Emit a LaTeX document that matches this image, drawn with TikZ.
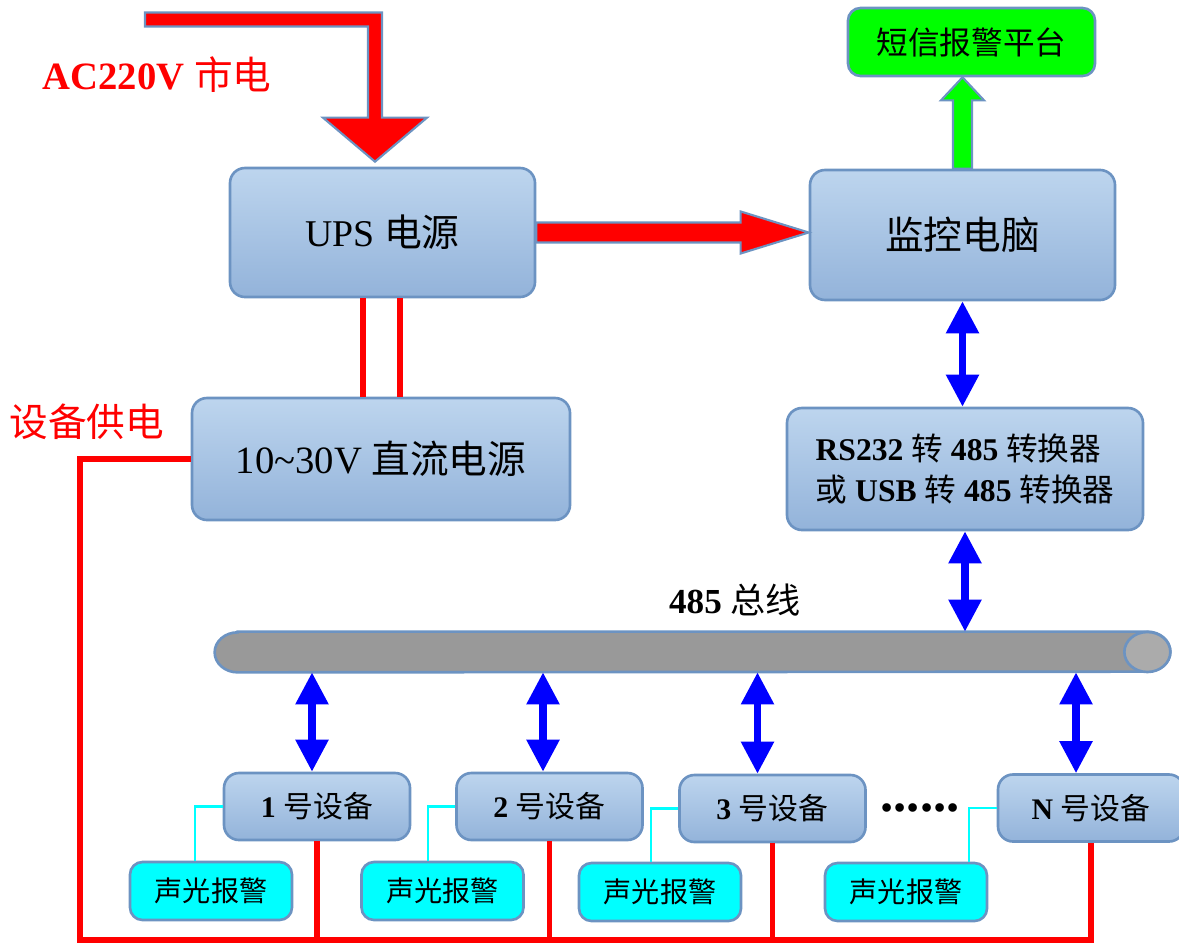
\documentclass[tikz,border=0pt]{standalone}
\usepackage{fontspec}
\setmainfont{Liberation Serif}
\newfontfamily\cjk{Noto Sans CJK SC}
\newcommand{\zh}[1]{{\cjk\mdseries #1}}
\usetikzlibrary{calc,arrows.meta}
\definecolor{boxtop}{HTML}{BDD5EE}
\definecolor{boxbot}{HTML}{93B3DA}
\definecolor{boxedge}{HTML}{6C93C2}
\definecolor{alarmcyan}{HTML}{00FFFF}
\definecolor{smsgreen}{HTML}{00FF00}
\tikzset{
  unit/.style={rounded corners=0.3cm, draw=boxedge, line width=1.5pt,
    top color=boxtop, bottom color=boxbot, align=center, inner sep=0pt},
  device/.style={unit, minimum width=3.72cm, minimum height=1.34cm,
    font=\bfseries\fontsize{17}{20}\selectfont},
  alarm/.style={rounded corners=0.25cm, draw=boxedge, line width=1.5pt, fill=alarmcyan,
    minimum width=3.24cm, minimum height=1.16cm, font=\fontsize{16}{18}\selectfont},
  power/.style={draw=red, line width=3.4pt},
  sig/.style={draw=alarmcyan, line width=1.2pt},
  link485/.style={blue, line width=4pt,
    {Triangle[width=0.63cm,length=0.64cm]}-{Triangle[width=0.63cm,length=0.64cm]}},
  block/.style={draw=boxedge, line width=1.2pt, line join=miter},
}
\begin{document}
\begin{tikzpicture}
\useasboundingbox (0,0) rectangle (23.58,-18.88);
% boxes
\node[unit, minimum width=6.1cm, minimum height=2.58cm, font=\fontsize{21.5}{24}\selectfont] (ups) at (7.65,-4.65) {UPS \zh{电源}};
\node[unit, minimum width=6.1cm, minimum height=2.6cm, font=\fontsize{22}{24}\selectfont] (pc) at (19.25,-4.7) {\zh{监控电脑}};
\node[rounded corners=0.25cm, draw=boxedge, line width=1.5pt, fill=smsgreen, minimum width=4.94cm, minimum height=1.36cm, font=\fontsize{18}{20}\selectfont] (sms) at (19.43,-0.84) {\zh{短信报警平台}};
\node[unit, minimum width=7.56cm, minimum height=2.44cm, font=\fontsize{22}{24}\selectfont] (dc) at (7.62,-9.18) {10\textasciitilde30V \zh{直流电源}};
\node[unit, align=left, minimum width=7.12cm, minimum height=2.44cm, font=\bfseries\fontsize{18}{23.8}\selectfont] (conv) at (19.3,-9.38) {RS232 \zh{转} 485 \zh{转换器}\\\zh{或} USB \zh{转} 485 \zh{转换器}};
% 485 bus (cylinder)
\node[minimum width=19.1cm, minimum height=0.8cm, inner sep=0pt] (bus) at (13.85,-13.04) {};
\draw[draw=boxedge, line width=1.5pt, fill=gray!80] ($(bus.north west)+(0.46,0)$) -- ($(bus.north east)+(-0.46,0)$) arc[start angle=90, end angle=-90, x radius=0.46, y radius=0.4] -- ($(bus.south west)+(0.46,0)$) arc[start angle=270, end angle=90, x radius=0.46, y radius=0.4] -- cycle;
\draw[draw=boxedge, line width=1.5pt, fill=gray!66] ($(bus.east)+(-0.46,0)$) ellipse[x radius=0.46, y radius=0.4];
\node[device] (d1) at (6.34,-16.13) {1 \zh{号设备}};
\node[device] (d2) at (10.99,-16.13) {2 \zh{号设备}};
\node[device] (d3) at (15.45,-16.17) {3 \zh{号设备}};
\node[device] (dN) at (21.82,-16.16) {N \zh{号设备}};
\node[font=\bfseries\fontsize{30}{32}\selectfont] (dots) at (18.4,-16.16) {......};
\node[alarm] (a1) at (4.22,-17.82) {\zh{声光报警}};
\node[alarm] (a2) at (8.85,-17.82) {\zh{声光报警}};
\node[alarm] (a3) at (13.2,-17.84) {\zh{声光报警}};
\node[alarm] (a4) at (18.12,-17.84) {\zh{声光报警}};
% labels
\node[red, font=\bfseries\fontsize{22}{24}\selectfont] (aclbl) at (3.14,-1.5) {AC220V \zh{市电}};
\node[red, font=\fontsize{22}{24}\selectfont] (pwrlbl) at (1.74,-8.44) {\zh{设备供电}};
\node[font=\bfseries\fontsize{20}{22}\selectfont] (buslbl) at (14.7,-12.0) {485 \zh{总线}};
% block arrows
\coordinate (acin) at (2.9,-0.39);
\coordinate (actip) at ($(ups.north)+(-0.15,0.1)$);
\draw[block, fill=red] ($(acin)+(0,0.14)$) -- ($(actip |- acin)+(0.14,0.14)$) -- ($(actip)+(0.14,0.88)$) -- ($(actip)+(1.04,0.88)$) -- (actip) -- ($(actip)+(-1.04,0.88)$) -- ($(actip)+(-0.14,0.88)$) -- ($(actip |- acin)+(-0.14,-0.14)$) -- ($(acin)+(0,-0.14)$) -- cycle;
\coordinate (pctip) at (ups.east -| pc.west);
\draw[block, fill=red] ($(ups.east)+(0,0.2)$) -- ($(pctip)+(-1.36,0.2)$) -- ($(pctip)+(-1.36,0.42)$) -- (pctip) -- ($(pctip)+(-1.36,-0.42)$) -- ($(pctip)+(-1.36,-0.2)$) -- ($(ups.east)+(0,-0.2)$) -- cycle;
\coordinate (smstip) at (pc.north |- sms.south);
\draw[block, fill=smsgreen] ($(pc.north)+(-0.19,0)$) -- ($(smstip)+(-0.19,-0.46)$) -- ($(smstip)+(-0.43,-0.46)$) -- (smstip) -- ($(smstip)+(0.43,-0.46)$) -- ($(smstip)+(0.19,-0.46)$) -- ($(pc.north)+(0.19,0)$) -- cycle;
% power lines
\draw[power] ([xshift=-0.39cm]ups.south) -- ([xshift=-0.39cm]ups.south |- dc.north);
\draw[power] ([xshift=0.35cm]ups.south) -- ([xshift=0.35cm]ups.south |- dc.north);
\coordinate (gnd) at (1.6,-18.8);
\draw[power] (dc.west) -| (gnd) -| (dN.south);
\foreach \d in {d1,d2,d3}
  \draw[power] (\d.south) -- (\d.south |- gnd);
% alarm links
\foreach \d/\a in {d1/a1,d2/a2,d3/a3,dN/a4}
  \draw[sig] (\d.west) -| ($(\d.west |- \a.north)+(-0.55,0)$);
% 485 links
\draw[link485] (pc.south) -- (pc.south |- conv.north);
\draw[link485] (conv.south) -- (conv.south |- bus.north);
\foreach \d/\s in {d1/-0.1,d2/-0.13,d3/-0.3,dN/-0.3}
  \draw[link485] ($(\d.north |- bus.south)+(\s,0)$) -- ($(\d.north)+(\s,0)$);
\end{tikzpicture}
\end{document}
